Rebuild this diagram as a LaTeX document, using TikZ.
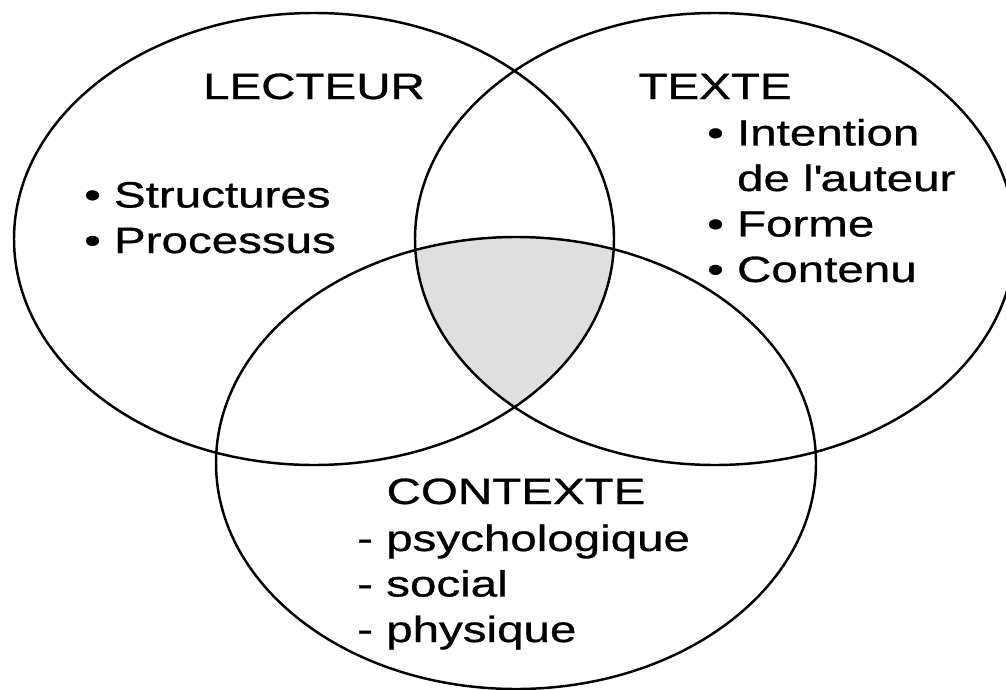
\documentclass[tikz,border=0pt]{standalone}
\usepackage{fontspec}
\setmainfont{Liberation Sans}[FakeStretch=1.3, FakeBold=0.8]
\usetikzlibrary{positioning}

\begin{document}
\begin{tikzpicture}[line width=1.4pt, font=\fontsize{20.8}{25.9}\selectfont]
  \tikzset{
    zone/.style={x radius=6cm, y radius=4.52cm},
    title/.style={anchor=base, inner sep=0pt},
    items/.style={anchor=base west, align=left, inner sep=0pt}
  }
  \useasboundingbox (0,0) rectangle (20.12,-13.8);
  \coordinate (lect) at (6.28,-4.78);
  \coordinate (text) at (14.30,-4.78);
  \coordinate (ctx) at (10.32,-9.26);
  % common part of the three zones
  \begin{scope}
    \clip (lect) ellipse [zone];
    \clip (text) ellipse [zone];
    \fill[gray!25] (ctx) ellipse [zone];
  \end{scope}
  \draw (lect) ellipse [zone];
  \draw (text) ellipse [zone];
  \draw (ctx) ellipse [zone];
  \node[title] (lecteur) at (6.28,-1.98) {LECTEUR};
  \node[title] (texte) at (14.30,-1.98) {TEXTE};
  \node[title] (contexte) at (10.32,-10.08) {CONTEXTE};
  % base anchor of a list = baseline of its last line
  \node[items] (lectlist) at (1.66,-5.06) {\textbullet\ Structures\\ \textbullet\ Processus};
  \node[items] (textlist) at (14.12,-5.64) {\textbullet\ Intention\\ \hphantom{\textbullet}\ de l\textquotesingle auteur\\ \textbullet\ Forme\\ \textbullet\ Contenu};
  \node[items] (ctxlist) at (7.12,-12.84) {- psychologique\\ - social\\ - physique};
\end{tikzpicture}
\end{document}
